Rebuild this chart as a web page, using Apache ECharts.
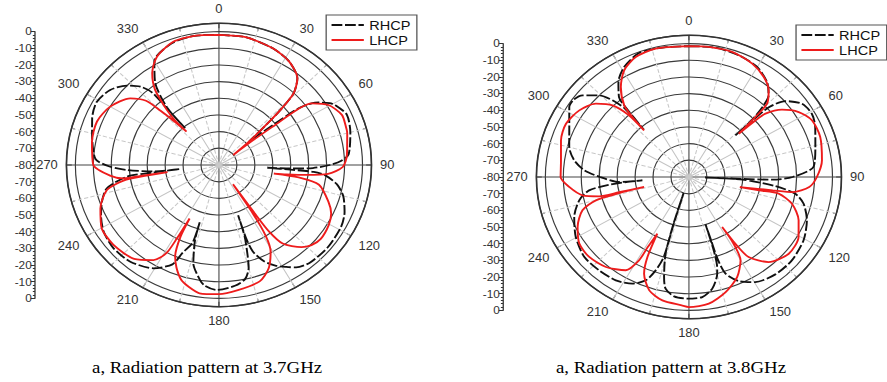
<!DOCTYPE html>
<html>
<head>
<meta charset="utf-8">
<title>Radiation patterns</title>
<script src="https://cdn.jsdelivr.net/npm/echarts@6/dist/echarts.min.js"></script>
<style>
  html, body { margin: 0; padding: 0; background: #fff; overflow: hidden; }
  /* the source picture is stretched a little horizontally, so is this one */
  #chart { width: 824px; height: 382px; transform: scaleX(1.07646); transform-origin: 0 0; }
</style>
</head>
<body>
<div id="chart"></div>
<script>
// pattern points as [gain dB, angle deg], traced clockwise from 0
const rhcp37 = [
  [-2,0],[-1.9,11],[-3.8,23],[-6.5,32],[-12,40],[-20,44],[-32,46],[-44,47.5],[-58,50],
  [-40,51.5],[-24,52.5],[-16,54.5],[-12.9,56],[-8,59],[-5.9,61],[-2.6,67],[-4.2,75],[-7.5,85],[-12,88],[-18.3,90],[-27.6,92],[-40,93],[-53,93.5],
  [-40,94],[-27,94.5],[-20.4,96],[-13.2,100],[-8.3,105],[-4.5,112],[-2.5,118.5],[-1.8,129],[-2.5,139],[-5,145],[-8.3,148.5],[-12,152.5],[-17,156.5],[-24.8,160],[-34,161],[-48,160.5],
  [-35,161.5],[-24,163.5],[-16,165],[-10,168],[-7,173],[-5,181],[-7,186],[-10.2,188.7],[-19.3,193.6],[-33,196.5],[-44,197.3],
  [-31,197.5],[-23.7,201],[-15,203.5],[-8.1,210.5],[-3.8,220.4],[-2.9,229.6],[-4.3,238],[-7.5,245],[-11.2,251.4],[-16,257.4],[-28.2,262.2],[-43,263],[-58,263.5],
  [-43,264],[-28.6,266.7],[-19.4,269],[-11.1,273],[-6.8,285],[-4,291.6],[-2.1,299],[-4.5,306.6],[-10,312.9],[-15.7,317],[-22.6,319.4],[-35,319.5],[-51,319.5],
  [-35,320],[-18.6,324.5],[-8,330],[-2.5,340],[-1.3,350],[-2,360]
];
const lhcp37 = [
  [-2,0],[-1.9,11],[-3.8,23],[-6.5,32],[-12,40],[-20,44],[-32,46],[-44,47.5],[-58,50],[-70,53],
  [-56,52],[-40,52.5],[-24,52.8],[-16.3,54.5],[-9.1,59.5],[-5.2,66.3],[-5.6,72],[-6,75],[-8.4,85],[-11,91],[-19,95],[-31,97],[-42,98.5],[-49,99.5],
  [-35,99.5],[-23,102],[-15,110],[-11,115],[-9,120.5],[-8,128],[-9.5,133],[-12.6,137],[-21,143],[-31,145],[-45,145.5],[-66,146],
  [-45,147],[-30,148.5],[-20.6,151],[-12,156],[-6.6,162],[-4.2,172],[-2.5,180],[-2.3,188],[-5,193],[-8,197],[-14,201],[-20,204],[-32,206.5],[-44,207],
  [-30,208],[-19.5,209],[-12.3,212.6],[-6.5,220],[-4.2,231],[-4.5,240],[-9,248.5],[-15.8,256.5],[-26,260],[-39,261],[-51,261.5],
  [-38,261.5],[-26,261.5],[-19,264],[-10,270],[-7.9,281],[-7.2,291],[-10,300],[-16.4,309],[-24,313.5],[-34,315],[-44,316.5],[-53,318],
  [-44,317.5],[-36,318.7],[-22.6,321.7],[-13.5,326],[-6.4,332],[-1.8,341],[-1.3,350],[-2,360]
];
const rhcp38 = [
  [-1.5,0],[-1,10.7],[-1.9,20.8],[-3.8,29.9],[-8.3,37.4],[-13.9,42.2],[-20.1,44.1],[-31.1,45.8],[-44,46],
  [-31,46.3],[-18.9,46.8],[-9.6,49.7],[-3.2,55.1],[-1.7,61],[-3.5,66.9],[-7.3,75.7],[-10.3,85],[-22.2,90],[-33.3,92],[-50,92.2],[-71,92],
  [-50,93],[-31.5,96.5],[-19.9,99.6],[-14.1,104.1],[-9.3,111.6],[-5.7,120.7],[-3.9,131.1],[-4.3,140.5],[-6.9,149.6],[-11.7,156],[-18.5,160.6],[-28,162],[-40,162],[-50,162],
  [-35,162.5],[-25,163.5],[-19.9,164.8],[-11.8,169],[-7.6,174.1],[-7,180.7],[-7.9,186.6],[-11.8,191],[-18.4,193],[-32.2,195.8],[-50,197],[-70,197.3],
  [-50,196.8],[-30,196.3],[-21,198.3],[-13.5,201.2],[-8.7,206.2],[-5.8,213.3],[-4.9,221.8],[-4.5,230.5],[-7.4,240.3],[-11.7,249.4],[-17.3,257.1],[-23.8,261.8],[-35,264],[-45,265],[-54,265.5],
  [-41.4,265.5],[-30.4,270],[-21.6,273.9],[-15.3,278.9],[-10.9,285.1],[-6.9,294.2],[-1.2,302.2],[-0.8,305.9],[-3.1,309.6],[-10,314.4],[-17.3,317.2],[-26,319],[-42,318.5],
  [-26,319.8],[-18.2,320.9],[-10.8,325.4],[-4.8,331.3],[-0.6,339.5],[-1,350],[-1.5,360]
];
const lhcp38 = [
  [-1.5,0],[-1.2,8],[-1.2,18],[-3.4,27.4],[-6.9,34.8],[-11.6,40.5],[-18.1,44.7],[-28.4,45.8],[-42,46.9],
  [-30,47.5],[-22.9,48.3],[-14.3,52.1],[-7.5,57.5],[-3.5,63.6],[-3,71.8],[-5.2,82.3],[-8.7,90],[-12.7,95.1],[-21.5,98.9],[-32.6,99.7],[-51,102],
  [-40,101.6],[-29,101.3],[-20.4,105.6],[-13.6,113],[-9.1,120.5],[-7.8,129.6],[-12.4,139],[-21.6,145.3],[-32.3,147.1],[-44.8,148.3],
  [-35,148],[-22.3,150.1],[-14.2,155.9],[-8,163.5],[-3.2,171.7],[-2,180],[-2.9,183],[-4.5,191.3],[-8.5,198],[-16.8,203.3],[-26.7,205.7],[-41.7,207.4],
  [-32.1,208.6],[-22.8,209.1],[-13.9,212.2],[-8.9,220.6],[-6.6,229.2],[-7,236.8],[-11.1,244.2],[-17.4,251.4],[-26.3,254.9],[-40,256],[-54.3,256.5],
  [-40,256.8],[-28.6,257],[-19.7,259.5],[-13,264.9],[-8.5,270],[-8,278],[-5.4,287.1],[-4.4,295],[-7,303.2],[-12,310.3],[-19.5,315.3],[-29.5,317.8],[-42.5,318.2],
  [-32.2,318.8],[-23.9,320],[-14,324.9],[-6.5,330.6],[-2.2,337.6],[-0.8,346.5],[-1.5,360]
];

const seriesNames = ['RHCP', 'LHCP'];
const captions = ['a, Radiation pattern at 3.7GHz', 'a, Radiation pattern at 3.8GHz'];

const chart = echarts.init(document.getElementById('chart'), null, { renderer: 'svg' });

// layout of the two panels (chart units, before the css stretch)
const panels = [
  { center: [203.4, 165], axisX: 32.5, legendX: 303, legendY: 15, captionX: 85.5 },
  { center: [640, 177], axisX: 467.3, legendX: 739.5, legendY: 25, captionX: 516.5 }
];
const R_OUT = 141.7;               // radius of the +5 dB frame ring
const R_ZERO = R_OUT * 80 / 85;    // radius of the 0 dB ring

const sans = 'Liberation Sans';
const black = '#111';
const red = '#ee1c1c';

const option = {
  animation: false,
  backgroundColor: '#fff',
  title: panels.map((p, i) => ({
    text: captions[i],
    left: p.captionX,
    top: 358,
    padding: 0,
    textStyle: { fontFamily: 'Liberation Serif', fontWeight: 'normal', fontSize: 17.5, color: '#000' }
  })),
  legend: panels.map(p => ({
    data: seriesNames,
    orient: 'vertical',
    left: p.legendX,
    top: p.legendY,
    itemWidth: 30,
    itemHeight: 12,
    itemGap: 1,
    padding: [3, 6, 3, 4],
    borderColor: '#555',
    borderWidth: 1.2,
    backgroundColor: '#fff',
    // keep only the line in the key, no marker dot
    itemStyle: { color: 'rgba(0,0,0,0)', borderColor: 'rgba(0,0,0,0)', borderWidth: 0, opacity: 0 },
    textStyle: { fontFamily: sans, fontSize: 13.5, color: '#111' }
  })),
  polar: panels.map(p => ({ center: p.center, radius: R_OUT })),
  angleAxis: panels.map((p, i) => ({
    polarIndex: i,
    type: 'value',
    min: 0,
    max: 360,
    interval: 30,
    startAngle: 90,
    clockwise: true,
    axisLine: { lineStyle: { color: '#333', width: 1.5 } },
    axisTick: { show: true, inside: true, length: 5, lineStyle: { color: '#333' } },
    minorTick: { show: true, splitNumber: 2, length: 3, lineStyle: { color: '#333' } },
    axisLabel: {
      margin: 8, fontSize: 12, color: '#333', fontFamily: sans,
      formatter: v => (v === 360 ? '' : String(v))
    },
    splitLine: { show: true, lineStyle: { color: ['#444', '#c4c4c4', '#c4c4c4'], width: 1 } },
    minorSplitLine: { show: true, lineStyle: { color: '#c8c8c8', type: 'dashed', width: 1 } }
  })),
  radiusAxis: panels.map((p, i) => ({
    polarIndex: i,
    type: 'value',
    min: -80,
    max: 5,
    interval: 10,
    axisLine: { show: false },
    axisTick: { show: false },
    axisLabel: { show: false },
    splitLine: { show: true, lineStyle: { color: '#3a3a3a', width: 1.1 } }
  })),
  // the Origin style mirrored scale on the left of each plot
  grid: panels.map(p => ({
    left: p.axisX,
    top: p.center[1] - R_ZERO,
    width: 10,
    height: 2 * R_ZERO
  })),
  xAxis: panels.map((p, i) => ({ gridIndex: i, type: 'value', show: false })),
  yAxis: panels.map((p, i) => ({
    gridIndex: i,
    type: 'value',
    min: -80,
    max: 80,
    interval: 10,
    axisLine: { show: true, lineStyle: { color: '#333', width: 1.2 } },
    axisTick: { show: true, length: 4, lineStyle: { color: '#333' } },
    minorTick: { show: true, splitNumber: 5, length: 2, lineStyle: { color: '#333' } },
    splitLine: { show: false },
    axisLabel: {
      margin: 3, fontSize: 11, color: '#333', fontFamily: sans,
      formatter: v => String(-(80 - Math.abs(v)))
    }
  })),
  series: [
    [rhcp37, lhcp37],
    [rhcp38, lhcp38]
  ].flatMap((pair, i) => [
    {
      name: seriesNames[0], type: 'line', coordinateSystem: 'polar', polarIndex: i,
      data: pair[0], symbol: 'none', smooth: 0.25,
      lineStyle: { color: black, width: 1.8, type: [10, 2.5] },
      itemStyle: { color: black }
    },
    {
      name: seriesNames[1], type: 'line', coordinateSystem: 'polar', polarIndex: i,
      data: pair[1], symbol: 'none', smooth: 0.25,
      lineStyle: { color: red, width: 1.8 },
      itemStyle: { color: red }
    }
  ])
};

chart.setOption(option);
</script>
</body>
</html>
